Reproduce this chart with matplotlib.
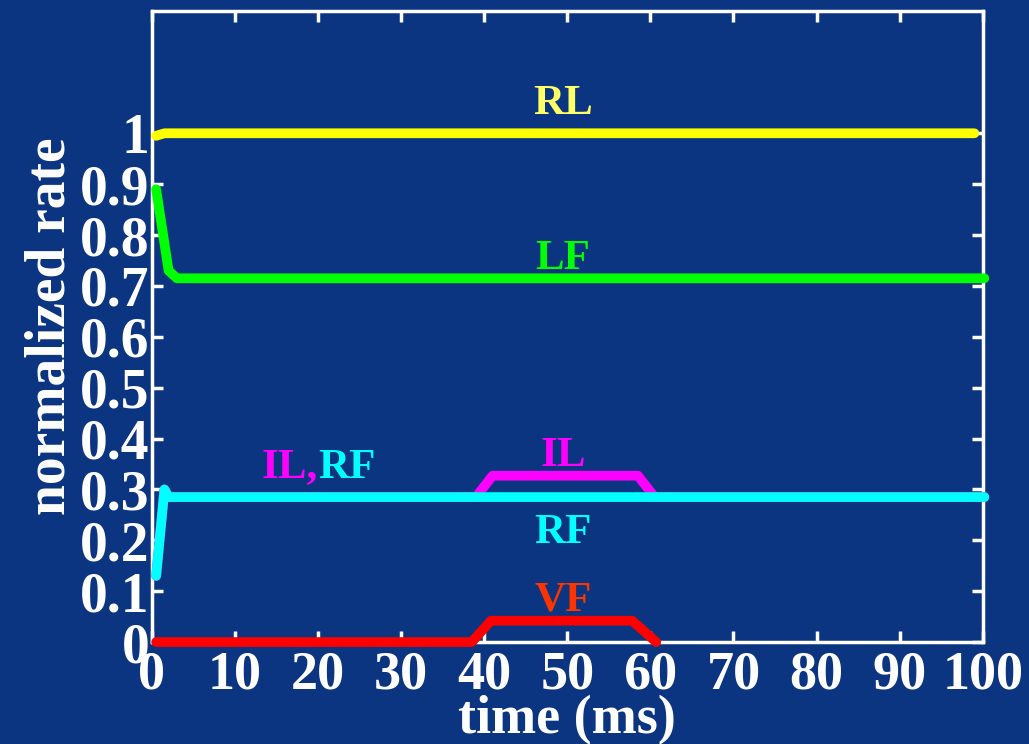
import matplotlib
matplotlib.use("Agg")
import matplotlib.pyplot as plt
import numpy as np

plt.rcParams['font.family'] = ['Liberation Serif', 'DejaVu Serif']
plt.rcParams['font.weight'] = 'bold'

BG = '#0b3580'

# series (time in ms, normalized rate)
t_rl = [0.5, 1.5, 99.0]
y_rl = [0.995, 1.0, 1.0]

t_lf = [0.5, 2.0, 3.0, 100.2]
y_lf = [0.89, 0.73, 0.715, 0.715]

t_il = [0.5, 1.5, 2.0, 39.0, 41.0, 58.5, 60.5, 100.2]
y_il = [0.13, 0.30, 0.285, 0.285, 0.327, 0.327, 0.285, 0.285]

t_rf = [0.5, 1.5, 2.0, 100.2]
y_rf = [0.13, 0.30, 0.285, 0.285]

t_vf = [0.5, 38.5, 40.8, 57.8, 60.7]
y_vf = [0.0, 0.0, 0.042, 0.042, 0.0]

xticks = [0, 10, 20, 30, 40, 50, 60, 70, 80, 90, 100]
yticks = [0, 0.1, 0.2, 0.3, 0.4, 0.5, 0.6, 0.7, 0.8, 0.9, 1]
ytick_labels = ['0', '0.1', '0.2', '0.3', '0.4', '0.5', '0.6', '0.7', '0.8', '0.9', '1']

fig = plt.figure(figsize=(10.29, 7.44), dpi=100, facecolor=BG)
ax = fig.add_axes([0.1477, 0.137, 0.8073, 0.848], facecolor=BG)

lw = 7
kw = dict(lw=lw, solid_capstyle='round', solid_joinstyle='round',
          clip_on=False, zorder=3)
ax.plot(t_rl, y_rl, color='#ffff00', **kw)
ax.plot(t_lf, y_lf, color='#00ff00', **kw)
ax.plot(t_il, y_il, color='#ff00ff', **kw)
ax.plot(t_rf, y_rf, color='#00ffff', **kw)
ax.plot(t_vf, y_vf, color='#ff0000', **kw)

lab = dict(ha='center', va='center', fontsize=31, fontweight='bold')
ax.text(49.5, 1.058, 'RL', color='#ffff66', **lab)
ax.text(49.5, 0.752, 'LF', color='#00ff00', **lab)
ax.text(49.5, 0.365, 'IL', color='#ff00ff', **lab)
ax.text(49.5, 0.215, 'RF', color='#00ffff', **lab)
ax.text(49.5, 0.082, 'VF', color='#ff3300', **lab)
ax.text(20.0, 0.343, 'IL,', color='#ff00ff', ha='right', va='center',
        fontsize=31, fontweight='bold')
ax.text(20.0, 0.343, 'RF', color='#00ffff', ha='left', va='center',
        fontsize=31, fontweight='bold')

ax.set_xlim(0, 100)
ax.set_ylim(0, 1.24)
ax.set_xticks(xticks)
ax.set_yticks(yticks)
ax.set_yticklabels(ytick_labels)

for s in ax.spines.values():
    s.set_color('white')
    s.set_linewidth(2.5)

ax.tick_params(direction='in', length=8, width=2.5, colors='white',
               top=True, right=True)
ax.tick_params(axis='x', labelsize=39, pad=6)
ax.tick_params(axis='y', labelsize=40, pad=2)
for lbl in ax.get_xticklabels() + ax.get_yticklabels():
    lbl.set_fontweight('bold')

ax.set_xlabel('time (ms)', color='white', fontsize=39, fontweight='bold',
              labelpad=-4)
ax.set_ylabel('normalized rate', color='white', fontsize=40,
              fontweight='bold', labelpad=2)

fig.savefig('out.png', dpi=100, facecolor=BG)
